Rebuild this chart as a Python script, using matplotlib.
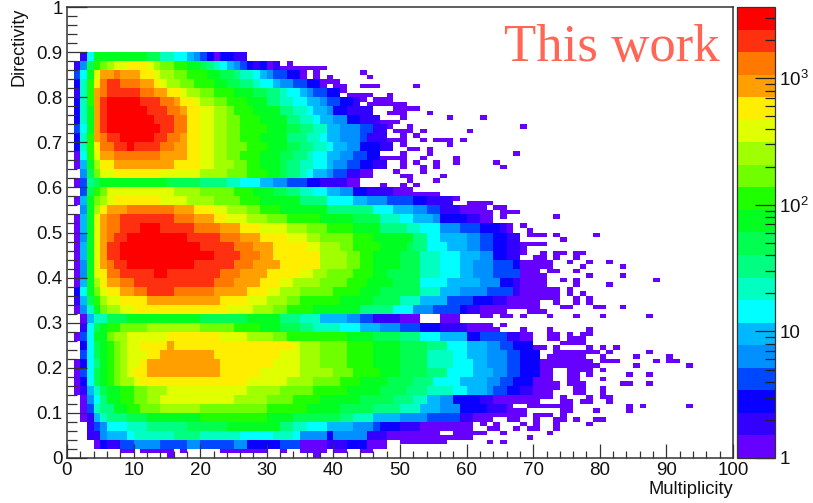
import numpy as np
import matplotlib
matplotlib.use("Agg")
import matplotlib.pyplot as plt
from matplotlib.colors import ListedColormap, LogNorm
from matplotlib.ticker import FixedLocator, FixedFormatter, NullFormatter

plt.rcParams['font.family'] = ['Liberation Sans', 'DejaVu Sans']
plt.rcParams['mathtext.default'] = 'regular'

# palette, lowest band first (20 bands on a log scale)
band_colors = ['#6600FF', '#3300FF', '#0A00FF', '#0048FF', '#0090FF', '#00B8FF', '#00FFFF',
               '#00FFC0', '#00FF80', '#00FF50', '#00FF20', '#20FF00', '#70FF00', '#A0FF00',
               '#E0FF00', '#FFEE00', '#FFA000', '#FF7800', '#FF3010', '#FF0000']
z_min, z_max = 1.0, 3655.0

# band level: "level:end column"; '.' = empty, 0-9 a-j = band 0-19
# key = lower edge of a two-bin row, in hundredths of directivity
upper_rows = {
 88: ".:2 1:3 6:4 a:12 9:14 7:16 6:18 5:19 4:20 3:21 2:22 0:23 2:25 1:27",
 86: ".:1 1:2 4:3 9:4 b:5 c:6 d:7 e:9 f:12 e:13 d:14 c:16 b:18 a:20 9:21 8:22 7:23 6:24 5:25 4:26 3:27 2:28 1:29 2:30 0:31 1:32",
 84: ".:1 3:2 6:3 a:4 e:5 g:7 h:8 g:11 f:13 e:14 d:16 c:18 b:21 a:23 9:25 8:26 7:28 6:29 5:30 4:31 3:33 2:35 0:36",
 82: ".:1 2:2 7:3 b:4 f:5 h:6 i:8 h:11 g:13 f:14 e:15 d:17 c:19 b:22 a:24 9:26 8:28 7:29 6:31 5:32 4:34 3:36 2:38",
 80: ".:1 1:2 7:3 b:4 g:5 h:6 i:11 h:13 g:15 f:17 e:18 d:20 c:22 b:25 a:28 9:30 8:32 7:33 6:35 5:36 4:37 3:39 2:41",
 78: ".:1 2:2 7:3 b:4 g:5 i:6 j:11 i:14 h:16 g:17 f:19 e:20 d:22 c:24 b:27 a:30 8:32 7:34 6:36 5:38 4:39 3:41 2:43 1:44",
 76: ".:1 2:2 7:3 a:4 g:5 i:6 j:12 i:15 h:17 g:18 f:20 e:22 d:24 c:25 b:28 a:32 8:34 7:36 6:37 5:39 4:40 2:42 1:46",
 74: ".:1 2:2 7:3 a:4 g:5 i:6 j:13 i:16 h:18 f:20 e:22 d:24 c:26 b:29 a:33 8:35 7:37 6:38 5:40 4:42 2:44 1:47",
 72: ".:1 3:2 6:3 a:4 g:5 i:6 j:14 i:16 h:18 f:20 e:22 d:24 c:26 b:30 a:33 9:35 8:37 7:39 5:41 4:44 3:46 1:48",
 70: ".:1 2:2 7:3 b:4 g:5 h:6 i:8 j:13 i:15 h:17 g:18 f:20 e:22 d:24 c:26 b:29 a:33 8:36 7:38 6:39 5:41 4:44 3:45 1:48",
 68: ".:1 2:2 7:3 b:4 f:5 h:7 i:9 j:10 i:14 h:16 g:18 f:20 e:22 d:24 c:27 b:30 a:33 9:35 8:37 7:39 6:40 5:42 4:44 2:47 1:49",
 66: ".:1 0:2 6:3 b:4 e:5 g:7 h:14 g:18 f:20 e:22 d:24 c:26 b:29 a:32 9:34 8:36 7:37 6:39 5:41 4:43 3:45 2:47",
 64: ".:1 0:2 5:3 a:4 d:5 f:7 g:16 f:20 e:22 d:25 c:27 b:29 a:32 9:33 8:35 7:37 6:39 5:40 4:42 3:44 2:46 1:48",
 62: ".:2 4:3 9:4 c:5 e:7 f:14 e:20 d:24 c:27 b:30 a:32 9:33 8:35 7:36 6:37 5:39 4:40 3:42 1:44 0:46",
 60: ".:1 0:2 3:3 8:4 9:5 a:15 9:20 8:24 7:26 6:29 5:31 4:33 3:36 2:38 1:42 0:44",
}
middle_rows = {
 58: ".:2 3:3 9:4 b:5 c:6 e:16 d:20 c:25 b:28 a:31 9:33 8:35 7:37 6:39 5:41 4:43 2:45 1:49 0:52",
 56: ".:1 0:2 5:3 a:4 c:5 d:6 e:7 f:14 e:18 d:22 c:26 b:29 a:35 8:39 6:43 5:45 4:48 3:52 2:54 1:58",
 54: ".:2 4:3 a:4 d:5 f:6 g:9 h:16 g:19 f:22 e:24 d:27 c:29 b:32 a:39 8:46 6:49 5:52 4:54 3:56 1:59 0:62",
 52: ".:1 0:2 5:3 a:4 e:5 g:6 h:8 i:16 h:19 g:22 f:24 e:27 d:30 c:33 b:38 a:43 9:47 7:50 6:52 5:55 4:56 2:60 1:62",
 50: ".:1 0:2 5:3 a:4 e:5 g:6 h:8 i:11 j:14 i:19 h:23 g:26 f:29 e:33 d:36 c:39 b:43 a:47 8:51 7:53 6:56 4:59 3:62 2:65 1:66",
 48: ".:1 0:2 4:3 a:4 e:5 g:6 h:7 i:9 j:18 i:23 h:26 g:29 f:33 e:36 d:38 c:43 b:46 a:52 8:54 6:56 5:60 4:62 3:64 2:66 1:68",
 46: ".:1 0:2 5:3 a:4 e:5 g:6 i:8 j:20 i:25 h:28 g:31 f:36 e:38 d:41 c:43 b:47 a:51 9:52 8:54 6:57 5:60 4:62 3:64 2:66 1:68",
 44: ".:1 0:2 5:3 a:4 e:5 g:6 i:8 j:22 i:26 h:29 g:31 f:38 d:42 c:44 b:46 a:50 9:53 7:56 6:59 5:62 4:64 2:66 1:68",
 42: ".:1 0:2 4:3 a:4 e:5 g:6 h:7 i:9 j:19 i:25 h:28 g:32 f:38 d:42 c:44 b:46 a:50 9:53 7:56 6:59 5:61 4:64 3:67 2:68",
 40: ".:1 0:2 4:3 a:4 e:5 f:6 h:8 i:13 j:15 i:23 h:26 g:30 f:35 e:37 d:39 c:43 b:46 a:48 9:53 7:56 6:59 5:61 4:64 3:68",
 38: ".:1 0:2 5:3 a:4 d:5 f:6 g:8 h:10 i:22 h:25 g:29 f:32 e:34 d:38 c:42 b:45 a:49 9:53 6:57 5:62 4:65 2:67 1:68",
 36: ".:1 2:2 6:3 a:4 c:5 e:6 f:8 g:10 h:12 i:16 h:22 g:27 f:30 e:32 d:35 c:40 b:44 a:47 9:53 7:56 5:59 4:63 3:67 1:68",
 34: ".:1 1:2 5:3 9:4 b:5 d:6 e:8 f:12 g:23 f:27 e:30 d:33 c:35 b:41 a:46 9:50 7:53 5:57 3:61 2:64 1:66",
 32: ".:1 0:2 4:3 7:4 a:5 c:6 d:8 e:10 f:24 e:28 d:31 c:33 b:37 a:44 8:49 6:52 4:55 3:59 2:60 1:62",
 30: ".:2 0:3 5:4 7:6 9:9 a:20 9:27 a:32 8:35 7:38 5:42 4:44 3:46 1:50 0:53 .:56 0:59",
}
lower_rows = {
 28: ".:2 1:3 6:4 9:5 a:6 b:8 c:12 d:20 c:25 b:29 a:32 9:35 8:37 7:41 6:44 5:47 4:50 3:53 2:56 1:60 0:64",
 26: ".:1 0:2 3:3 6:4 a:6 c:7 d:9 e:15 f:23 e:27 d:31 c:33 b:42 a:46 9:50 8:53 6:56 5:60 2:62 3:66 1:68",
 24: ".:2 2:3 6:4 9:5 a:6 b:7 c:8 d:9 e:11 f:15 g:16 f:34 e:35 d:38 c:42 b:46 a:50 9:54 8:57 6:60 5:63 4:65 3:67 2:70",
 22: ".:2 3:3 6:4 9:5 a:6 b:7 c:8 d:9 e:12 f:14 g:22 f:32 e:35 d:38 c:42 b:46 a:50 9:54 7:58 6:60 5:63 4:66 3:68 2:71",
 20: ".:1 0:2 2:3 6:4 8:5 a:6 b:7 c:8 d:9 e:11 f:12 g:23 f:31 e:35 d:38 c:42 b:46 a:50 9:54 7:58 6:61 5:63 4:66 3:68 2:71",
 18: ".:1 0:2 3:3 6:4 9:5 a:6 b:7 c:8 d:9 e:10 f:12 g:23 f:29 e:35 d:40 c:43 b:47 a:50 9:54 8:57 6:61 5:64 4:66 3:68 2:71",
 16: ".:1 0:2 2:3 6:4 9:5 a:6 b:7 c:8 d:10 e:11 f:27 e:33 d:37 c:41 b:44 a:48 9:52 8:55 6:59 5:63 4:65 3:67 2:70",
 14: ".:1 0:2 1:3 5:4 7:5 9:6 a:8 b:10 c:12 d:15 e:27 d:32 c:37 b:42 a:47 9:51 8:54 7:58 6:60 5:63 4:64 3:66 2:68 1:70",
 12: ".:2 0:3 4:4 6:5 8:6 a:8 b:10 c:12 d:14 e:25 d:30 c:34 b:38 a:44 9:49 8:52 7:54 5:56 4:58 2:62 1:64",
 10: ".:2 0:3 3:4 7:5 8:7 a:9 b:11 c:14 d:20 c:30 b:36 a:41 9:46 8:50 7:53 5:56 4:59 2:63 1:66",
 8: ".:2 0:3 1:4 5:5 7:6 8:9 9:12 a:20 b:30 a:34 9:41 8:43 7:46 5:50 4:54 3:59 1:61 0:63",
 6: ".:3 1:4 3:5 4:6 6:9 7:12 8:18 9:24 a:32 8:34 7:36 6:39 5:43 4:46 3:47 2:50 1:53 0:57",
 4: ".:3 1:5 4:6 5:9 6:10 7:16 8:20 7:26 6:31 7:34 6:35 4:39 2:40 4:45 1:48 0:56",
 2: ".:4 0:5 2:6 1:8 3:10 4:14 3:18 4:20 3:25 4:27 2:32 3:35 0:39 1:42 2:45 0:48",
}

# isolated low-count cells: single-bin row index -> occupied columns
sparse_upper = {
 87: "33", 86: "32-38", 85: "32-33 37 44", 84: "37 39 45", 83: "37-40",
 82: "32-38 40-41 44-46 52", 81: "38-41", 80: "42-45 48", 79: "44 46-48", 78: "45-50",
 77: "49-52", 76: "48-50 54", 75: "50 57 62", 74: "46-49", 73: "48 51 68",
 72: "49-51 53 60", 71: "50 52", 70: "48-50 53 55-57 59", 69: "50 57", 68: "51-52 54",
 67: "50 54 67", 66: "47-50 53 58", 65: "50 52 55 58 64", 64: "50 53 55 65", 63: "49 53",
 62: "50-51 56", 61: "51 55", 60: "47 50 52",
}
sparse_middle = {
 58: "52-55", 57: "52-54 56-58", 56: "50-52 54-56 60-63", 55: "54-56 58-59 61-62 64-65",
 54: "59-60 61-63 65-67", 53: "62-63 65 73", 52: "62-63", 51: "62-66 68", 50: "62-66 69",
 49: "62-65 67 69-71 73 79", 48: "62-65 74", 47: "62-66 68-71", 46: "62-68", 45: "62-68 71 73-74 76-77",
 44: "62-67 70-71 73 76", 43: "62-72 75 78 81", 42: "62-72 77 83", 41: "62-70 72-73 76",
 40: "62-71 78 83", 39: "62-71 74 76 88", 38: "62-71 76 81", 37: "62-73 75", 36: "62-73 75 77",
 35: "62-73 76 78", 34: "62-70 73 76 78", 33: "62-70 74-75 79-80 83", 32: "62-65 69-71",
 31: "62-63 65-66 68 72 76 80 87", 29: "65",
}
sparse_lower = {
 28: "62-64 68 72 78", 27: "62-66 68-69 72-73 75 77-78", 26: "62-69 72-73 75-77", 25: "62-69 74-77",
 24: "62-71 73 78 80 82", 23: "62-68 70 73-79 81 87", 22: "62-68 70 72-77 80 85 90",
 21: "62-78 80-82 88 90-91", 20: "62-79 85 93", 19: "62-72 75-78 80", 18: "62-72 75-76 78 84 87",
 17: "62-72 75-76 80", 16: "62-73 75-77 83-84 87", 15: "62-73 76-77 80", 14: "62-72 76-77 80",
 13: "62-72 74 78 80-81", 12: "62-70 74-75 77-78 81", 11: "62-66 69-75 84 86 93", 10: "62-68 74-75 79 84",
 9: "62-68 70-72 74", 8: "63 66-67 70 73-74 76 79-80", 7: "57-60 62 64 68 70 73 78",
 6: "56-60 63-64 67 69-70 73", 5: "58-61 62 65 72", 4: "55-60 69", 3: "50-56 63 65",
 1: "8-9 11-15 17 23-29 32 35-38 40-41 44-45", 0: "15 37",
}

def band_count(level):
    return 10 ** ((level + 0.5) * np.log10(z_max / z_min) / len(band_colors))

grid = np.full((100, 100), np.nan)
for table in (upper_rows, middle_rows, lower_rows):
    for row, spec in table.items():
        start = 0
        for token in spec.split():
            level, end = token.split(':')
            end = int(end)
            if level != '.':
                grid[row:row + 2, start:end] = band_count(int(level, 36))
            start = end
for table in (sparse_upper, sparse_middle, sparse_lower):
    for row, spec in table.items():
        for part in spec.split():
            a, _, b = part.partition('-')
            for col in range(int(a), int(b or a) + 1):
                if np.isnan(grid[row, col]):
                    grid[row, col] = band_count(0)

fig = plt.figure(figsize=(8.13, 5.03), dpi=100)
W, H = 813.0, 503.0
ax = fig.add_axes([67 / W, 1 - 458 / H, 666 / W, 451 / H])
cax = fig.add_axes([737 / W, 1 - 458 / H, 38 / W, 451 / H])

cmap = ListedColormap(band_colors)
edges_x = np.arange(101)
edges_y = np.arange(101) / 100.0
mesh = ax.pcolormesh(edges_x, edges_y, np.ma.masked_invalid(grid), cmap=cmap,
                     norm=LogNorm(z_min, z_max), antialiased=False, linewidth=0)

ax.set_xlim(0, 100)
ax.set_ylim(0, 1)
axis_col = '#333333'
for s in ax.spines.values():
    s.set_color(axis_col)
    s.set_linewidth(1.1)
ax.set_xticks(np.arange(0, 101, 10))
ax.set_xticks(np.arange(0, 101, 2), minor=True)
ax.set_yticks(np.arange(0, 1.01, 0.1))
ax.set_yticks(np.arange(0, 1.001, 0.02), minor=True)
ax.set_xticklabels(['0', '10', '20', '30', '40', '50', '60', '70', '80', '90', '100'])
ax.set_yticklabels(['0', '0.1', '0.2', '0.3', '0.4', '0.5', '0.6', '0.7', '0.8', '0.9', '1'])
ax.tick_params(axis='x', which='major', direction='in', length=10, width=0.9, color=axis_col,
               labelsize=13.5, pad=3, labelcolor='#111111')
ax.tick_params(axis='x', which='minor', direction='in', length=5, width=0.9, color=axis_col)
ax.tick_params(axis='y', which='major', direction='in', length=14.5, width=0.9, color=axis_col,
               labelsize=13.5, pad=3, labelcolor='#111111')
ax.tick_params(axis='y', which='minor', direction='in', length=7.5, width=0.9, color=axis_col)

fig.text(733 / W, 1 - 490 / H, 'Multiplicity', ha='right', va='center', fontsize=13.2, color='#111111')
fig.text(19 / W, 1 - 8 / H, 'Directivity', rotation=90, ha='center', va='top', fontsize=13, color='#111111')
fig.text(720 / W, 1 - 48 / H, 'This work', ha='right', va='center', fontsize=38,
         family=['Liberation Serif'], color='#FF6655')

cb = fig.colorbar(mesh, cax=cax)
cb.outline.set_edgecolor(axis_col)
cb.outline.set_linewidth(0.9)
cax.yaxis.set_ticks_position('right')
cax.yaxis.set_major_locator(FixedLocator([1, 10, 100, 1000]))
cax.yaxis.set_major_formatter(FixedFormatter(['1', '10', '$10^{2}$', '$10^{3}$']))
minor_vals = [m * d for d in (1, 10, 100, 1000) for m in range(2, 10) if m * d < z_max]
cax.yaxis.set_minor_locator(FixedLocator(minor_vals))
cax.yaxis.set_minor_formatter(NullFormatter())
cax.tick_params(axis='y', which='major', direction='in', length=14.5, width=0.9, color='#222222',
                labelsize=13.5, pad=3, labelcolor='#111111')
cax.tick_params(axis='y', which='minor', direction='in', length=7.5, width=0.9, color='#222222')

fig.savefig('out.png', dpi=100)
